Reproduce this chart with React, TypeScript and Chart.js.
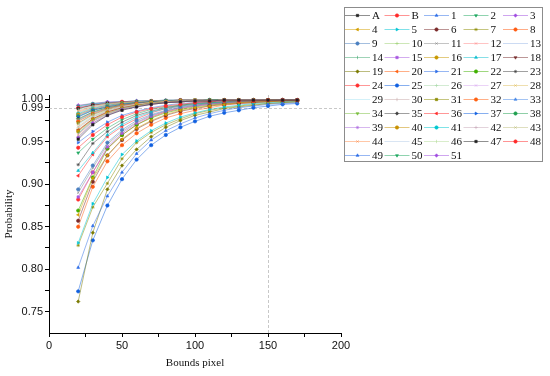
import React, { useEffect, useRef } from 'react';
import { Chart, registerables } from 'chart.js';
import { drawPoint } from 'chart.js/helpers';

Chart.register(...registerables);

const xValues = [20, 30, 40, 50, 60, 70, 80, 90, 100, 110, 120, 130, 140, 150, 160, 170];

const seriesNames = ['A', 'B', '1', '2', '3', '4', '5', '6', '7', '8', '9', '10', '11', '12', '13', '14', '15', '16', '17', '18', '19', '20', '21', '22', '23', '24', '25', '26', '27', '28', '29', '30', '31', '32', '33', '34', '35', '36', '37', '38', '39', '40', '41', '42', '43', '44', '45', '46', '47', '48', '49', '50', '51'];

const sA = [0.953, 0.970, 0.981, 0.987, 0.991, 0.994, 0.996, 0.997, 0.998, 0.998, 0.999, 0.999, 0.999, 0.999, 0.999, 0.999];
const sB = [0.943, 0.958, 0.970, 0.979, 0.985, 0.989, 0.992, 0.994, 0.996, 0.997, 0.998, 0.998, 0.998, 0.999, 0.999, 0.999];
const s1 = [0.802, 0.851, 0.886, 0.914, 0.936, 0.952, 0.963, 0.971, 0.978, 0.983, 0.987, 0.990, 0.992, 0.994, 0.995, 0.996];
const s2 = [0.937, 0.953, 0.966, 0.976, 0.983, 0.988, 0.991, 0.993, 0.995, 0.996, 0.997, 0.998, 0.998, 0.999, 0.999, 0.999];
const s3 = [0.955, 0.972, 0.981, 0.988, 0.991, 0.994, 0.996, 0.997, 0.998, 0.998, 0.999, 0.999, 0.999, 0.999, 0.999, 0.999];
const s4 = [0.864, 0.907, 0.934, 0.953, 0.966, 0.975, 0.982, 0.987, 0.990, 0.992, 0.994, 0.996, 0.997, 0.997, 0.998, 0.998];
const s5 = [0.831, 0.877, 0.908, 0.935, 0.951, 0.963, 0.972, 0.979, 0.984, 0.988, 0.991, 0.993, 0.995, 0.996, 0.997, 0.998];
const s6 = [0.857, 0.903, 0.934, 0.952, 0.965, 0.974, 0.981, 0.986, 0.989, 0.992, 0.994, 0.995, 0.996, 0.997, 0.998, 0.998];
const s7 = [0.828, 0.873, 0.901, 0.930, 0.949, 0.961, 0.970, 0.977, 0.983, 0.987, 0.990, 0.992, 0.994, 0.995, 0.996, 0.997];
const s8 = [0.850, 0.897, 0.927, 0.946, 0.960, 0.970, 0.978, 0.983, 0.987, 0.990, 0.993, 0.995, 0.996, 0.997, 0.998, 0.998];
const s9 = [0.894, 0.922, 0.949, 0.964, 0.975, 0.982, 0.987, 0.991, 0.993, 0.995, 0.996, 0.997, 0.998, 0.998, 0.999, 0.999];
const s10 = [0.956, 0.972, 0.982, 0.988, 0.992, 0.994, 0.996, 0.997, 0.998, 0.998, 0.999, 0.999, 0.999, 0.999, 0.999, 0.999];
const s11 = [0.890, 0.919, 0.947, 0.962, 0.973, 0.981, 0.986, 0.990, 0.993, 0.995, 0.996, 0.997, 0.998, 0.998, 0.999, 0.999];
const s12 = [0.958, 0.974, 0.983, 0.988, 0.992, 0.994, 0.996, 0.997, 0.998, 0.998, 0.999, 0.999, 0.999, 0.999, 0.999, 0.999];
const s13 = [0.959, 0.974, 0.983, 0.989, 0.992, 0.995, 0.996, 0.997, 0.998, 0.998, 0.999, 0.999, 0.999, 0.999, 0.999, 0.999];
const s14 = [0.960, 0.975, 0.983, 0.989, 0.992, 0.995, 0.996, 0.997, 0.998, 0.998, 0.999, 0.999, 0.999, 0.999, 0.999, 0.999];
const s15 = [0.885, 0.914, 0.944, 0.960, 0.972, 0.980, 0.986, 0.990, 0.992, 0.994, 0.996, 0.997, 0.997, 0.998, 0.998, 0.999];
const s16 = [0.962, 0.976, 0.984, 0.989, 0.993, 0.995, 0.996, 0.997, 0.998, 0.998, 0.999, 0.999, 0.999, 0.999, 0.999, 0.999];
const s17 = [0.916, 0.937, 0.958, 0.970, 0.979, 0.985, 0.989, 0.992, 0.994, 0.996, 0.997, 0.998, 0.998, 0.999, 0.999, 0.999];
const s18 = [0.963, 0.977, 0.985, 0.990, 0.993, 0.995, 0.996, 0.997, 0.998, 0.998, 0.999, 0.999, 0.999, 0.999, 0.999, 0.999];
const s19 = [0.762, 0.843, 0.894, 0.922, 0.941, 0.956, 0.967, 0.975, 0.981, 0.985, 0.989, 0.991, 0.993, 0.995, 0.996, 0.997];
const s20 = [0.964, 0.977, 0.985, 0.990, 0.993, 0.995, 0.997, 0.997, 0.998, 0.998, 0.999, 0.999, 0.999, 0.999, 0.999, 0.999];
const s21 = [0.949, 0.962, 0.973, 0.981, 0.986, 0.990, 0.993, 0.995, 0.996, 0.997, 0.998, 0.998, 0.999, 0.999, 0.999, 0.999];
const s22 = [0.869, 0.908, 0.942, 0.958, 0.970, 0.978, 0.984, 0.988, 0.991, 0.993, 0.995, 0.996, 0.997, 0.998, 0.998, 0.999];
const s23 = [0.923, 0.948, 0.962, 0.973, 0.981, 0.986, 0.990, 0.993, 0.995, 0.996, 0.997, 0.998, 0.998, 0.999, 0.999, 0.999];
const s24 = [0.882, 0.914, 0.942, 0.958, 0.970, 0.979, 0.985, 0.989, 0.992, 0.994, 0.995, 0.996, 0.997, 0.998, 0.998, 0.999];
const s25 = [0.774, 0.834, 0.875, 0.906, 0.929, 0.946, 0.958, 0.967, 0.974, 0.980, 0.984, 0.987, 0.990, 0.992, 0.994, 0.995];
const s26 = [0.966, 0.979, 0.986, 0.990, 0.993, 0.995, 0.997, 0.997, 0.998, 0.998, 0.999, 0.999, 0.999, 0.999, 0.999, 0.999];
const s27 = [0.967, 0.979, 0.986, 0.991, 0.994, 0.995, 0.997, 0.997, 0.998, 0.998, 0.999, 0.999, 0.999, 0.999, 0.999, 0.999];
const s28 = [0.968, 0.980, 0.987, 0.991, 0.994, 0.996, 0.997, 0.997, 0.998, 0.998, 0.999, 0.999, 0.999, 0.999, 0.999, 0.999];
const s29 = [0.970, 0.981, 0.987, 0.991, 0.994, 0.996, 0.997, 0.998, 0.998, 0.998, 0.999, 0.999, 0.999, 0.999, 0.999, 0.999];
const s30 = [0.971, 0.982, 0.988, 0.992, 0.994, 0.996, 0.997, 0.998, 0.998, 0.998, 0.999, 0.999, 0.999, 0.999, 0.999, 0.999];
const s31 = [0.972, 0.982, 0.988, 0.992, 0.994, 0.996, 0.997, 0.998, 0.998, 0.998, 0.999, 0.999, 0.999, 0.999, 0.999, 0.999];
const s32 = [0.974, 0.983, 0.989, 0.993, 0.995, 0.996, 0.997, 0.998, 0.998, 0.998, 0.999, 0.999, 0.999, 0.999, 0.999, 0.999];
const s33 = [0.975, 0.984, 0.989, 0.993, 0.995, 0.996, 0.997, 0.998, 0.998, 0.998, 0.999, 0.999, 0.999, 0.999, 0.999, 0.999];
const s34 = [0.976, 0.985, 0.990, 0.993, 0.995, 0.996, 0.997, 0.998, 0.998, 0.999, 0.999, 0.999, 0.999, 0.999, 0.999, 0.999];
const s35 = [0.977, 0.985, 0.990, 0.993, 0.995, 0.997, 0.997, 0.998, 0.998, 0.999, 0.999, 0.999, 0.999, 0.999, 0.999, 0.999];
const s36 = [0.910, 0.935, 0.956, 0.968, 0.977, 0.984, 0.989, 0.992, 0.994, 0.995, 0.996, 0.997, 0.998, 0.998, 0.999, 0.999];
const s37 = [0.979, 0.987, 0.991, 0.994, 0.996, 0.997, 0.998, 0.998, 0.998, 0.999, 0.999, 0.999, 0.999, 0.999, 0.999, 0.999];
const s38 = [0.980, 0.987, 0.991, 0.994, 0.996, 0.997, 0.998, 0.998, 0.998, 0.999, 0.999, 0.999, 0.999, 0.999, 0.999, 0.999];
const s39 = [0.981, 0.988, 0.992, 0.994, 0.996, 0.997, 0.998, 0.998, 0.999, 0.999, 0.999, 0.999, 0.999, 0.999, 0.999, 0.999];
const s40 = [0.982, 0.988, 0.992, 0.995, 0.996, 0.997, 0.998, 0.998, 0.999, 0.999, 0.999, 0.999, 0.999, 0.999, 0.999, 0.999];
const s41 = [0.983, 0.989, 0.993, 0.995, 0.996, 0.997, 0.998, 0.998, 0.999, 0.999, 0.999, 0.999, 0.999, 0.999, 0.999, 0.999];
const s42 = [0.984, 0.990, 0.993, 0.995, 0.996, 0.997, 0.998, 0.998, 0.999, 0.999, 0.999, 0.999, 0.999, 0.999, 0.999, 0.999];
const s43 = [0.985, 0.990, 0.993, 0.995, 0.997, 0.997, 0.998, 0.998, 0.999, 0.999, 0.999, 0.999, 0.999, 0.999, 0.999, 0.999];
const s44 = [0.986, 0.991, 0.994, 0.996, 0.997, 0.998, 0.998, 0.998, 0.999, 0.999, 0.999, 0.999, 0.999, 0.999, 0.999, 0.999];
const s45 = [0.987, 0.992, 0.994, 0.996, 0.997, 0.998, 0.998, 0.998, 0.999, 0.999, 0.999, 0.999, 0.999, 0.999, 0.999, 0.999];
const s46 = [0.988, 0.992, 0.995, 0.996, 0.997, 0.998, 0.998, 0.999, 0.999, 0.999, 0.999, 0.999, 0.999, 0.999, 0.999, 0.999];
const s47 = [0.989, 0.993, 0.995, 0.996, 0.997, 0.998, 0.998, 0.999, 0.999, 0.999, 0.999, 0.999, 0.999, 0.999, 0.999, 0.999];
const s48 = [0.990, 0.993, 0.995, 0.997, 0.997, 0.998, 0.998, 0.999, 0.999, 0.999, 0.999, 0.999, 0.999, 0.999, 0.999, 0.999];
const s49 = [0.991, 0.994, 0.996, 0.997, 0.998, 0.998, 0.998, 0.999, 0.999, 0.999, 0.999, 0.999, 0.999, 0.999, 0.999, 0.999];
const s50 = [0.992, 0.995, 0.996, 0.997, 0.998, 0.998, 0.999, 0.999, 0.999, 0.999, 0.999, 0.999, 0.999, 0.999, 0.999, 0.999];
const s51 = [0.993, 0.995, 0.997, 0.997, 0.998, 0.998, 0.999, 0.999, 0.999, 0.999, 0.999, 0.999, 0.999, 0.999, 0.999, 0.999];

const seriesValues = [sA, sB, s1, s2, s3, s4, s5, s6, s7, s8, s9, s10, s11, s12, s13, s14, s15, s16, s17, s18, s19, s20, s21, s22, s23, s24, s25, s26, s27, s28, s29, s30, s31, s32, s33, s34, s35, s36, s37, s38, s39, s40, s41, s42, s43, s44, s45, s46, s47, s48, s49, s50, s51];

const yMajorTicks = [0.75, 0.80, 0.85, 0.90, 0.95, 0.99, 1.00];
const yMinorTicks = [0.775, 0.825, 0.875, 0.925, 0.975];

const markerColors = [
  '#222222', '#ff2a2a', '#2f6fe8', '#1fa860', '#a04ce0', '#d4a000', '#00c4d4', '#7a2a2a', '#8c8c00', '#ff5a10',
  '#4a7fc0', '#9cd070', '#8a8a8a', '#ff8a8a', '#9ab8e8', '#40a870', '#a858e0', '#c89800', '#10c0d0', '#7a3030',
  '#7a7a00', '#ff6010', '#2f6fe8', '#40b000', '#444444', '#ff3030', '#1060e0', '#a8d8a8', '#d8a8f0', '#e0c060',
  '#a8e4f4', '#c8a8a8', '#8c8c00', '#ff6010', '#4a8ae8', '#7cc040', '#404040', '#ff3030', '#1060e0', '#20a050',
  '#b070e0', '#c89000', '#00c8d0', '#c8a8b8', '#c0c080', '#ff9050', '#b4cce8', '#b4dc98', '#222222', '#ff2a2a',
  '#2f6fe8', '#1fa860', '#a04ce0'
];

const styleCycle: any[] = [
  ['rect', 0], ['circle', 0], ['triangle', 0], ['triangle', 180], ['rectRot', 0], ['triangle', -90], ['triangle', 90],
  ['circle', 0], ['star', 0], ['circle', 0], ['circle', 0], ['cross', 0], ['crossRot', 0], ['crossRot', 0], [false, 0], ['line', 90]
];

function withAlpha(hex: string, a: number) {
  const r = parseInt(hex.slice(1, 3), 16);
  const g = parseInt(hex.slice(3, 5), 16);
  const b = parseInt(hex.slice(5, 7), 16);
  return `rgba(${r},${g},${b},${a})`;
}

const CHART_LEFT = 49;
const CHART_RIGHT = 341;
const CHART_TOP = 95;
const CHART_BOTTOM = 333;

const refLinesPlugin = {
  id: 'refLines',
  beforeDatasetsDraw(chart: any) {
    const { ctx, chartArea, scales } = chart;
    const x = scales.x.getPixelForValue(150);
    const y = scales.y.getPixelForValue(0.99);
    ctx.save();
    ctx.strokeStyle = '#c8c8c8';
    ctx.lineWidth = 1;
    ctx.setLineDash([3, 2]);
    ctx.beginPath();
    ctx.moveTo(Math.round(x) + 0.5, chartArea.top);
    ctx.lineTo(Math.round(x) + 0.5, chartArea.bottom);
    ctx.moveTo(chartArea.left, Math.round(y) + 0.5);
    ctx.lineTo(chartArea.right, Math.round(y) + 0.5);
    ctx.stroke();
    ctx.restore();
  },
};

const legendPlugin = {
  id: 'boxLegend',
  afterDraw(chart: any) {
    const { ctx } = chart;
    const boxX = 344.5, boxY = 7.5, boxW = 198, boxH = 154;
    ctx.save();
    ctx.fillStyle = '#ffffff';
    ctx.fillRect(boxX, boxY, boxW, boxH);
    ctx.strokeStyle = '#8c8c8c';
    ctx.lineWidth = 1;
    ctx.strokeRect(boxX, boxY, boxW, boxH);
    const colW = 39.5;
    const rowH = 14;
    chart.data.datasets.forEach((ds: any, i: number) => {
      const row = Math.floor(i / 5);
      const col = i % 5;
      const x0 = 345 + col * colW;
      const y0 = 15 + row * rowH;
      ctx.strokeStyle = ds.borderColor;
      ctx.lineWidth = 1;
      ctx.setLineDash([]);
      ctx.beginPath();
      ctx.moveTo(x0, y0 + 0.5);
      ctx.lineTo(x0 + 25, y0 + 0.5);
      ctx.stroke();
      if (ds.pointStyle) {
        ctx.fillStyle = ds.pointBackgroundColor;
        ctx.strokeStyle = ds.pointBorderColor;
        ctx.lineWidth = 0.6;
        drawPoint(ctx, { pointStyle: ds.pointStyle, rotation: ds.pointRotation, radius: 1.7, borderWidth: 0.6 } as any, x0 + 12.5, y0 + 0.5);
      }
      ctx.fillStyle = '#111111';
      ctx.font = "11px 'Liberation Serif', serif";
      ctx.textAlign = 'left';
      ctx.textBaseline = 'middle';
      ctx.fillText(ds.label, x0 + 27, y0 + 1);
    });
    ctx.restore();
  },
};

export default function App() {
  const canvasRef = useRef<HTMLCanvasElement | null>(null);

  useEffect(() => {
    const canvas = canvasRef.current;
    if (!canvas) return;
    const datasets = seriesValues.map((vals, i) => {
      const [ps, rot] = styleCycle[i % styleCycle.length];
      const c = markerColors[i];
      return {
        label: seriesNames[i],
        data: vals.map((v, k) => ({ x: xValues[k], y: v })),
        borderColor: withAlpha(c, 0.5),
        borderWidth: 1,
        pointStyle: ps,
        pointRotation: rot,
        pointRadius: ps ? 1.7 : 0,
        pointBackgroundColor: c,
        pointBorderColor: c,
        pointBorderWidth: 0.6,
        fill: false,
        tension: 0,
      };
    });

    const chart = new Chart(canvas, {
      type: 'line',
      data: { datasets },
      plugins: [refLinesPlugin, legendPlugin],
      options: {
        responsive: false,
        animation: false,
        events: [],
        layout: {
          padding: { left: 0, top: CHART_TOP, right: 550 - CHART_RIGHT, bottom: 0 },
        },
        plugins: {
          legend: { display: false },
          tooltip: { enabled: false },
        },
        scales: {
          x: {
            type: 'linear',
            min: 0,
            max: 200,
            afterFit: (scale: any) => { scale.height = 376 - CHART_BOTTOM; },
            ticks: {
              stepSize: 25,
              autoSkip: false,
              maxRotation: 0,
              padding: 2,
              color: '#111111',
              font: { family: "'Liberation Sans Narrow', 'Liberation Sans', Arial, sans-serif", size: 11 },
              callback: (v: any) => (Number(v) % 50 === 0 ? String(v) : ''),
            },
            grid: { display: true, drawOnChartArea: false, drawTicks: true, tickLength: 4, color: '#000000' },
            border: { display: true, color: '#000000', width: 1 },
            title: {
              display: true,
              text: 'Bounds pixel',
              color: '#111111',
              font: { family: "'Liberation Serif', 'Times New Roman', serif", size: 11 },
              padding: { top: 0, bottom: 6 },
            },
          },
          y: {
            type: 'linear',
            min: 0.725,
            max: 1.005,
            afterFit: (scale: any) => { scale.width = CHART_LEFT; },
            afterBuildTicks: (scale: any) => {
              const all = [...yMajorTicks, ...yMinorTicks].sort((a, b) => a - b);
              scale.ticks = all.map((v) => ({ value: v }));
            },
            ticks: {
              autoSkip: false,
              padding: 2,
              color: '#111111',
              font: { family: "'Liberation Sans Narrow', 'Liberation Sans', Arial, sans-serif", size: 11 },
              callback: (v: any) => {
                const n = Number(v);
                return yMajorTicks.some((m) => Math.abs(m - n) < 1e-6) ? n.toFixed(2) : '';
              },
            },
            grid: { display: true, drawOnChartArea: false, drawTicks: true, tickLength: 4, color: '#000000' },
            border: { display: true, color: '#000000', width: 1 },
            title: {
              display: true,
              text: 'Probability',
              color: '#111111',
              font: { family: "'Liberation Serif', 'Times New Roman', serif", size: 11 },
              padding: { top: 3, bottom: 0 },
            },
          },
        },
      } as any,
    });
    return () => chart.destroy();
  }, []);

  return (
    <div style={{ position: 'fixed', left: 0, top: 0, width: 550, height: 376, background: '#ffffff' }}>
      <canvas ref={canvasRef} width={550} height={376} style={{ display: 'block', width: 550, height: 376 }} />
    </div>
  );
}
